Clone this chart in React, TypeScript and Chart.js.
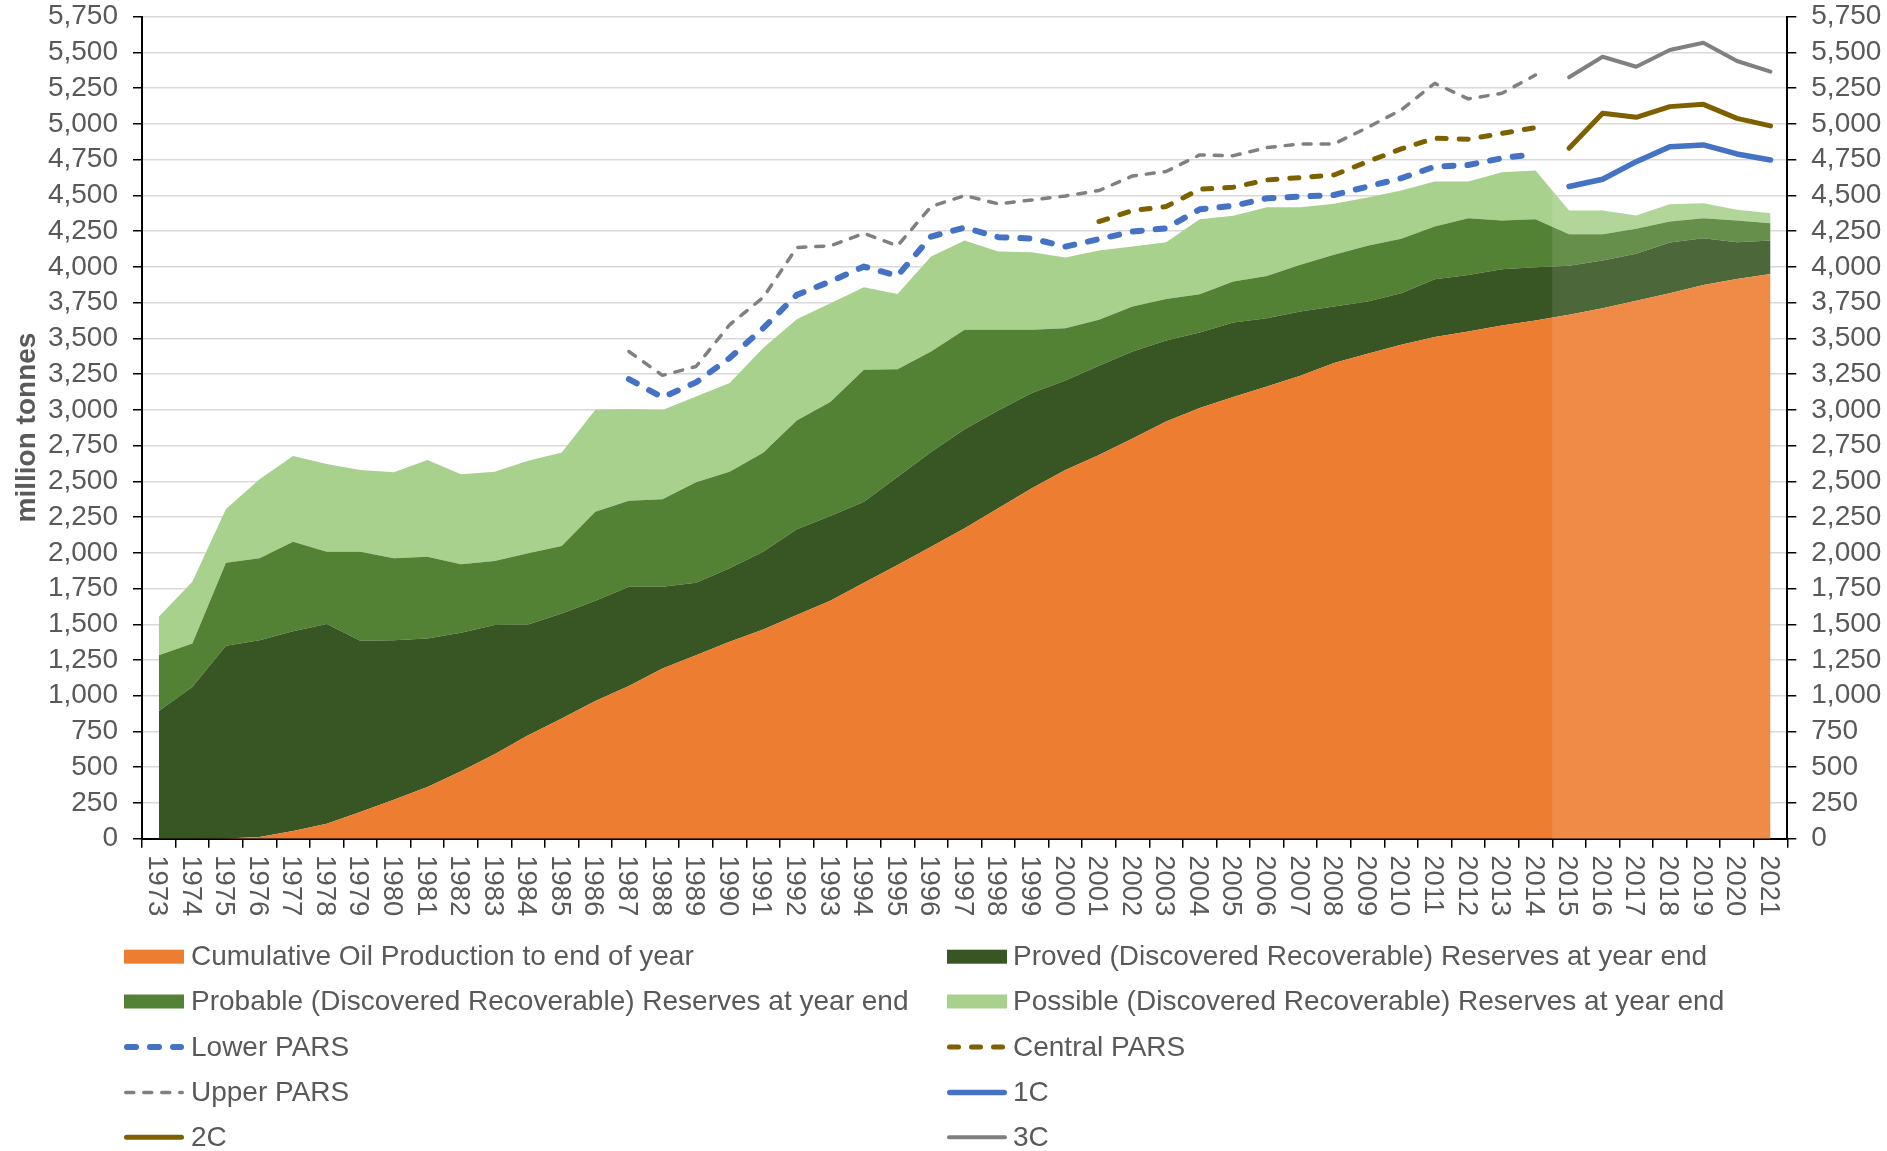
import React, { useEffect, useRef } from 'react';
import { Chart, registerables } from 'chart.js';

Chart.register(...registerables);

// ---------- DATA ----------
const years = [
  '1973', '1974', '1975', '1976', '1977', '1978', '1979', '1980', '1981', '1982',
  '1983', '1984', '1985', '1986', '1987', '1988', '1989', '1990', '1991', '1992',
  '1993', '1994', '1995', '1996', '1997', '1998', '1999', '2000', '2001', '2002',
  '2003', '2004', '2005', '2006', '2007', '2008', '2009', '2010', '2011', '2012',
  '2013', '2014', '2015', '2016', '2017', '2018', '2019', '2020', '2021',
];

const cumulativeProduction = [
  0, 0, 2, 12, 54, 105, 187, 273, 362, 471, 590, 724, 840, 964,
  1068, 1190, 1284, 1377, 1463, 1564, 1664, 1790, 1914, 2042, 2171, 2311, 2451, 2579,
  2684, 2800, 2919, 3012, 3089, 3164, 3238, 3327, 3392, 3455, 3509, 3548, 3590, 3625,
  3665, 3711, 3763, 3816, 3874, 3916, 3951,
];

const provedReserves = [
  894, 1062, 1347, 1377, 1398, 1396, 1197, 1116, 1038, 969, 904, 774, 735, 700,
  694, 572, 506, 514, 544, 600, 593, 567, 616, 663, 694, 685, 666, 627,
  624, 608, 566, 529, 522, 477, 450, 396, 366, 361, 405, 396, 394, 373,
  342, 333, 328, 354, 327, 257, 233,
];

const probableReserves = [
  390, 303, 581, 572, 625, 506, 623, 572, 572, 479, 448, 498, 472, 623,
  602, 612, 703, 676, 693, 762, 797, 923, 754, 703, 695, 564, 443, 365,
  322, 315, 291, 268, 287, 296, 326, 361, 389, 380, 368, 396, 340, 335,
  222, 185, 175, 147, 139, 151, 121,
];

const possibleReserves = [
  268, 432, 376, 553, 600, 614, 572, 602, 677, 630, 625, 648, 655, 713,
  641, 624, 601, 620, 732, 708, 692, 578, 527, 664, 624, 547, 543, 494,
  484, 419, 397, 524, 459, 480, 403, 357, 338, 338, 315, 257, 338, 341,
  165, 165, 93, 121, 105, 75, 70,
];

const lowerParsStart = '1987';
const lowerPars = [
  3215, 3087, 3192, 3362, 3571, 3804, 3898, 4002, 3937, 4212, 4275, 4208, 4198, 4142,
  4194, 4247, 4270, 4403, 4427, 4480, 4492, 4503, 4562, 4620, 4701, 4713, 4760, 4790,
];

const centralParsStart = '2001';
const centralPars = [
  4317, 4394, 4422, 4543, 4557, 4608, 4625, 4643, 4736, 4825, 4900, 4893, 4934, 4974,
];

const upperParsStart = '1987';
const upperPars = [
  3408, 3241, 3303, 3595, 3786, 4135, 4147, 4235, 4147, 4422, 4499, 4441, 4468, 4496,
  4534, 4636, 4667, 4783, 4778, 4834, 4860, 4860, 4975, 5098, 5284, 5175, 5214, 5342,
];

const contingentStart = '2015';
const c1 = [4562, 4613, 4736, 4841, 4853, 4790, 4748];
const c2 = [4830, 5074, 5046, 5121, 5137, 5039, 4986];
const c3 = [5326, 5470, 5400, 5517, 5568, 5440, 5366];

const projectionStartYear = '2015';

const yMin = 0;
const yMax = 5750;
const yStep = 250;
const yAxisTitle = 'million tonnes';

// ---------- STYLE ----------
const W = 1887;
const H = 1151;
const FONT = '"Liberation Sans", Arial, Helvetica, sans-serif';
const TEXT = '#595959';

const padSeries = (start: string, vals: number[]) => {
  const s = years.indexOf(start);
  return years.map((_, i) => (i >= s && i < s + vals.length ? vals[i - s] : null));
};

type LegendItem = {
  label: string;
  kind: 'box' | 'line';
  color: string;
  width?: number;
  dash?: number[];
};

export default function App() {
  const ref = useRef<HTMLCanvasElement | null>(null);

  useEffect(() => {
    document.body.style.margin = '0';
    document.body.style.overflow = 'hidden';
    const canvas = ref.current;
    if (!canvas) return;

    const areaDs = (label: string, data: number[], color: string, idx: number) => ({
      label,
      data,
      backgroundColor: color,
      borderColor: color,
      borderWidth: 0,
      fill: idx === 0 ? 'origin' : '-1',
      pointRadius: 0,
      yAxisID: 'y',
      order: 1,
      tension: 0,
    });

    const lineDs = (label: string, data: (number | null)[], color: string, width: number, dash: number[]) => ({
      label,
      data,
      borderColor: color,
      backgroundColor: color,
      borderWidth: width,
      borderDash: dash,
      borderCapStyle: 'round',
      borderJoinStyle: 'round',
      fill: false,
      pointRadius: 0,
      yAxisID: 'y2',
      order: 0,
      spanGaps: false,
      tension: 0,
    });

    const datasets: any[] = [
      areaDs('Cumulative Oil Production to end of year', cumulativeProduction, '#ED7D31', 0),
      areaDs('Proved (Discovered Recoverable) Reserves at year end', provedReserves, '#375623', 1),
      areaDs('Probable (Discovered Recoverable) Reserves at year end', probableReserves, '#548235', 2),
      areaDs('Possible (Discovered Recoverable) Reserves at year end', possibleReserves, '#A9D18E', 3),
      lineDs('Lower PARS', padSeries(lowerParsStart, lowerPars), '#4472C4', 6, [9, 14]),
      lineDs('Central PARS', padSeries(centralParsStart, centralPars), '#7F6000', 5, [9, 13]),
      lineDs('Upper PARS', padSeries(upperParsStart, upperPars), '#808080', 3.5, [8, 10]),
      lineDs('1C', padSeries(contingentStart, c1), '#4472C4', 5.5, []),
      lineDs('2C', padSeries(contingentStart, c2), '#7F6000', 5, []),
      lineDs('3C', padSeries(contingentStart, c3), '#808080', 4, []),
    ];

    const legendItems: LegendItem[] = datasets.map((d, i) =>
      i < 4
        ? { label: d.label, kind: 'box', color: d.backgroundColor }
        : { label: d.label, kind: 'line', color: d.borderColor, width: d.borderWidth, dash: d.borderDash }
    );

    const tickFont = { family: FONT, size: 28 };

    const customPlugin = {
      id: 'customDecor',
      afterDatasetDraw(chart: any, args: any) {
        if (args.index !== 0) return;
        const ctx = chart.ctx;
        const ys = chart.scales.y;
        const meta = chart.getDatasetMeta(3);
        const pts = meta.data;
        const p = years.indexOf(projectionStartYear);
        if (p < 1) return;
        const xb = (pts[p - 1].x + pts[p].x) / 2;
        const yb = (pts[p - 1].y + pts[p].y) / 2;
        const y0 = ys.getPixelForValue(0);
        ctx.save();
        ctx.beginPath();
        ctx.moveTo(xb, y0);
        ctx.lineTo(xb, yb);
        for (let i = p; i < pts.length; i++) ctx.lineTo(pts[i].x, pts[i].y);
        ctx.lineTo(pts[pts.length - 1].x, y0);
        ctx.closePath();
        ctx.fillStyle = 'rgba(255,255,255,0.11)';
        ctx.fill();
        ctx.restore();
      },
      afterDraw(chart: any) {
        const ctx = chart.ctx;
        const xs = chart.scales.x;
        const area = chart.chartArea;
        ctx.save();
        // x labels rotated clockwise
        ctx.fillStyle = TEXT;
        ctx.font = `27.5px ${FONT}`;
        ctx.textAlign = 'left';
        ctx.textBaseline = 'alphabetic';
        years.forEach((yr, i) => {
          const x = xs.getPixelForValue(i);
          ctx.save();
          ctx.translate(x, area.bottom + 16.5);
          ctx.rotate(Math.PI / 2);
          ctx.fillText(yr, 0, 9.8);
          ctx.restore();
        });
        // y axis title
        ctx.save();
        ctx.font = `bold 28px ${FONT}`;
        ctx.textAlign = 'center';
        ctx.textBaseline = 'alphabetic';
        ctx.translate(35, 427.5);
        ctx.rotate(-Math.PI / 2);
        ctx.fillText(yAxisTitle, 0, 0);
        ctx.restore();
        // legend
        const colSym = [124, 947];
        const colText = [191, 1013];
        const rowY = [956.7, 1001.5, 1047, 1092.5, 1137.2];
        ctx.font = `28px ${FONT}`;
        ctx.textBaseline = 'middle';
        ctx.textAlign = 'left';
        legendItems.forEach((it, k) => {
          const r = Math.floor(k / 2);
          const c = k % 2;
          const y = rowY[r];
          const x0 = colSym[c];
          if (it.kind === 'box') {
            ctx.fillStyle = it.color;
            ctx.fillRect(x0, y - 7, 60, 14);
          } else {
            ctx.save();
            ctx.strokeStyle = it.color;
            ctx.lineWidth = it.width || 4;
            ctx.lineCap = 'round';
            ctx.setLineDash(it.dash || []);
            ctx.beginPath();
            const hw = (it.width || 4) / 2;
            ctx.moveTo(x0 + hw, y);
            ctx.lineTo(x0 + 60 - hw, y);
            ctx.stroke();
            ctx.restore();
          }
          ctx.fillStyle = TEXT;
          ctx.fillText(it.label, colText[c], y + 1);
        });
        ctx.restore();
      },
    };

    const chart = new Chart(canvas, {
      type: 'line',
      data: { labels: years, datasets },
      options: {
        responsive: false,
        animation: false,
        devicePixelRatio: 1,
        layout: { padding: { top: 16.7, left: 0, right: 0, bottom: 0 } },
        plugins: {
          legend: { display: false },
          tooltip: { enabled: false },
          title: { display: false },
        },
        elements: { point: { radius: 0 }, line: { tension: 0 } },
        scales: {
          x: {
            type: 'category',
            offset: true,
            grid: {
              display: true,
              offset: true,
              drawOnChartArea: false,
              drawTicks: true,
              tickLength: 9,
              color: '#000000',
              lineWidth: 1.5,
            },
            border: { display: true, color: '#000000', width: 2 },
            ticks: { display: false, autoSkip: false },
            afterFit: (s: any) => {
              s.height = H - 838.7;
              s.paddingLeft = 0;
              s.paddingRight = 0;
            },
          },
          y: {
            type: 'linear',
            position: 'left',
            stacked: true,
            min: yMin,
            max: yMax,
            ticks: { stepSize: yStep, autoSkip: false, color: TEXT, font: tickFont, padding: 15 },
            grid: { color: '#D9D9D9', lineWidth: 1.5, tickColor: '#000000', tickLength: 9 },
            border: { display: true, color: '#000000', width: 2 },
            afterFit: (s: any) => {
              s.width = 142;
              s.paddingTop = 0;
              s.paddingBottom = 0;
            },
          },
          y2: {
            type: 'linear',
            position: 'right',
            stacked: false,
            min: yMin,
            max: yMax,
            ticks: { stepSize: yStep, autoSkip: false, color: TEXT, font: tickFont, padding: 15 },
            grid: { drawOnChartArea: false, tickColor: '#000000', tickLength: 9, lineWidth: 1.5 },
            border: { display: true, color: '#000000', width: 2 },
            afterFit: (s: any) => {
              s.width = W - 1787.3;
              s.paddingTop = 0;
              s.paddingBottom = 0;
            },
          },
        },
      } as any,
      plugins: [customPlugin],
    });

    return () => chart.destroy();
  }, []);

  return (
    <canvas
      ref={ref}
      width={W}
      height={H}
      style={{ display: 'block', width: W + 'px', height: H + 'px' }}
    />
  );
}
